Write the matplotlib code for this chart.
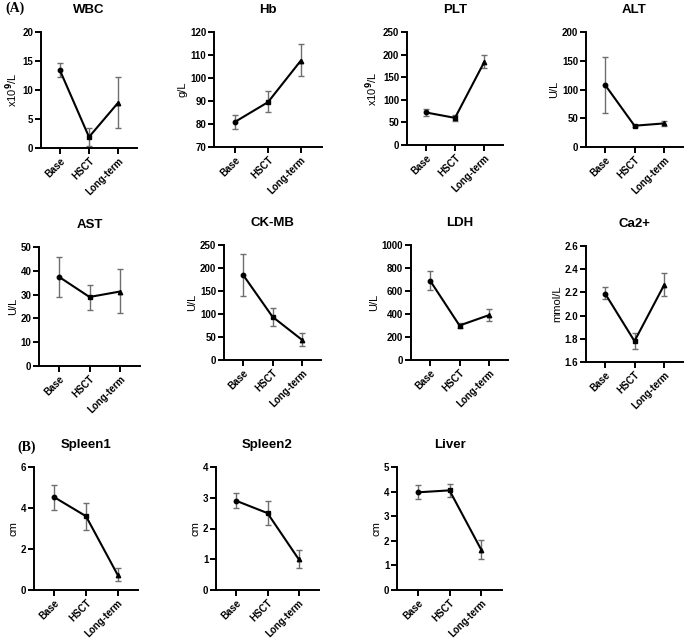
import matplotlib.pyplot as plt
import numpy as np

plt.rcParams['font.family'] = ['Liberation Sans', 'DejaVu Sans']
plt.rcParams['font.weight'] = 'bold'
plt.rcParams['mathtext.default'] = 'bf'

groups = ['Base', 'HSCT', 'Long-term']

# each panel: mean, low end and high end of the error bar
wbc_mean = [13.4, 1.9, 7.8]
wbc_low = [12.2, 0.3, 3.5]
wbc_high = [14.7, 3.5, 12.3]

hb_mean = [81, 89.5, 107.5]
hb_low = [78, 85, 101]
hb_high = [84, 94.5, 114.7]

plt_mean = [72, 60, 183]
plt_low = [65, 52, 170]
plt_high = [80, 67, 199]

alt_mean = [108, 37, 41]
alt_low = [60, 35, 37]
alt_high = [157, 39, 46]

ast_mean = [37.5, 29, 31.3]
ast_low = [29, 23.6, 22.2]
ast_high = [46, 34.2, 40.8]

ckmb_mean = [185, 94, 44]
ckmb_low = [140, 75, 30]
ckmb_high = [230, 113, 58]

ldh_mean = [690, 300, 390]
ldh_low = [605, 275, 340]
ldh_high = [775, 325, 445]

ca_mean = [2.19, 1.78, 2.26]
ca_low = [2.14, 1.71, 2.17]
ca_high = [2.25, 1.85, 2.37]

spleen1_mean = [4.52, 3.6, 0.75]
spleen1_low = [3.92, 2.95, 0.45]
spleen1_high = [5.12, 4.22, 1.05]

spleen2_mean = [2.9, 2.5, 1.0]
spleen2_low = [2.67, 2.13, 0.7]
spleen2_high = [3.15, 2.88, 1.3]

liver_mean = [3.97, 4.05, 1.63]
liver_low = [3.68, 3.8, 1.25]
liver_high = [4.27, 4.32, 2.02]

W, H = 685, 640


def box(x0, x1, y0, y1):
    # pixel box -> figure fraction
    return [x0 / W, 1 - y1 / H, (x1 - x0) / W, (y1 - y0) / H]


def panel(fig, rect, title, ylabel, mean, low, high, ylim, yticks, ytl=None):
    ax = fig.add_axes(rect)
    x = np.arange(len(groups))
    mean = np.array(mean)
    err = [mean - np.array(low), np.array(high) - mean]
    ax.errorbar(x, mean, yerr=err, fmt='none', ecolor='#6e6e6e', elinewidth=1.0,
                capsize=2.5, capthick=1.0, zorder=2)
    ax.plot(x, mean, color='black', lw=1.5, zorder=3)
    for xi, yi, m in zip(x, mean, ['o', 's', '^']):
        ax.plot(xi, yi, marker=m, color='black', ms=3.2, zorder=4)
    ax.set_xlim(-0.65, 2.65)
    ax.set_ylim(*ylim)
    ax.set_yticks(yticks)
    if ytl is not None:
        ax.set_yticklabels(ytl)
    ax.set_xticks(x)
    ax.set_xticklabels(groups, rotation=45, ha='right', rotation_mode='anchor')
    for s in ['top', 'right']:
        ax.spines[s].set_visible(False)
    for s in ['left', 'bottom']:
        ax.spines[s].set_linewidth(1.4)
    ax.tick_params(width=1.4, length=4, labelsize=7, pad=1.5)
    for lab in ax.get_xticklabels() + ax.get_yticklabels():
        lab.set_fontweight('bold')
    ax.set_title(title, fontsize=9.5, fontweight='bold', pad=14)
    ax.set_ylabel(ylabel, fontsize=8, labelpad=2)
    return ax


fig = plt.figure(figsize=(6.85, 6.40), dpi=100)

panel(fig, box(41, 137, 32, 148), 'WBC', 'x10$^9$/L', wbc_mean, wbc_low, wbc_high,
      (0, 20), [0, 5, 10, 15, 20])
panel(fig, box(214, 322, 32, 147), 'Hb', 'g/L', hb_mean, hb_low, hb_high,
      (70, 120), [70, 80, 90, 100, 110, 120])
panel(fig, box(407, 503, 32, 145), 'PLT', 'x10$^9$/L', plt_mean, plt_low, plt_high,
      (0, 250), [0, 50, 100, 150, 200, 250])
panel(fig, box(586, 683, 32, 147), 'ALT', 'U/L', alt_mean, alt_low, alt_high,
      (0, 200), [0, 50, 100, 150, 200])

panel(fig, box(39, 140, 247, 366), 'AST', 'U/L', ast_mean, ast_low, ast_high,
      (0, 50), [0, 10, 20, 30, 40, 50])
panel(fig, box(224, 321, 245, 360), 'CK-MB', 'U/L', ckmb_mean, ckmb_low, ckmb_high,
      (0, 250), [0, 50, 100, 150, 200, 250])
panel(fig, box(411, 508, 245, 360), 'LDH', 'U/L', ldh_mean, ldh_low, ldh_high,
      (0, 1000), [0, 200, 400, 600, 800, 1000])
panel(fig, box(586, 683, 246, 362), 'Ca2+', 'mmol/L', ca_mean, ca_low, ca_high,
      (1.6, 2.6), [1.6, 1.8, 2.0, 2.2, 2.4, 2.6],
      ['1.6', '1.8', '2.0', '2.2', '2.4', '2.6'])

panel(fig, box(34, 138, 467, 590), 'Spleen1', 'cm', spleen1_mean, spleen1_low, spleen1_high,
      (0, 6), [0, 2, 4, 6])
panel(fig, box(216, 319, 467, 590), 'Spleen2', 'cm', spleen2_mean, spleen2_low, spleen2_high,
      (0, 4), [0, 1, 2, 3, 4])
panel(fig, box(397, 502, 467, 590), 'Liver', 'cm', liver_mean, liver_low, liver_high,
      (0, 5), [0, 1, 2, 3, 4, 5])

fig.text(5 / W, 1 - 8 / H, '(A)', fontsize=10, fontweight='bold',
         family='Liberation Serif', va='center')
fig.text(17 / W, 1 - 447 / H, '(B)', fontsize=10, fontweight='bold',
         family='Liberation Serif', va='center')

fig.savefig('out.png', dpi=100)
